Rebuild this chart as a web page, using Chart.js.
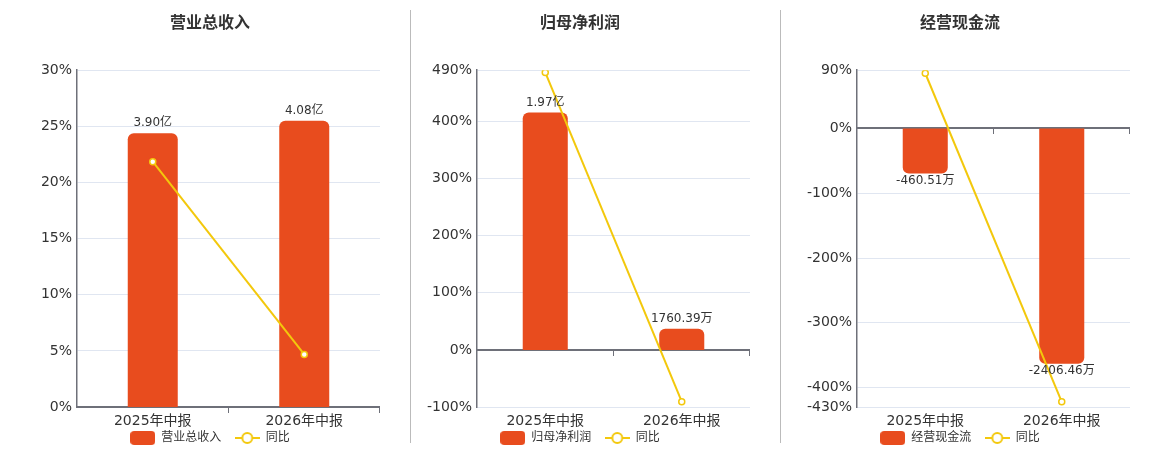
<!DOCTYPE html>
<html>
<head>
<meta charset="utf-8">
<script src="https://cdn.jsdelivr.net/npm/chart.js@4.4.1/dist/chart.umd.min.js"></script>
<style>
  body { margin: 0; background: #fff; width: 1160px; height: 450px; position: relative; overflow: hidden; }
  .box { position: absolute; top: 0; height: 454px; }
  .sep { position: absolute; top: 10px; height: 433px; width: 1px; background: #bbb; }
</style>
</head>
<body>
<div class="box" style="left:0;width:420px"><canvas id="c1" width="420" height="454"></canvas></div>
<div class="box" style="left:400px;width:360px"><canvas id="c2" width="360" height="454"></canvas></div>
<div class="box" style="left:780px;width:360px"><canvas id="c3" width="360" height="454"></canvas></div>
<div class="sep" style="left:410px"></div>
<div class="sep" style="left:780px"></div>
<script>
  const periods = ['2025年中报', '2026年中报'];

  // 营业总收入 (亿)
  const revenue = [3.90, 4.08];
  const revenueText = ['3.90亿', '4.08亿'];
  const revenueYoy = [21.85, 4.68];
  const revenueTicks = [0, 5, 10, 15, 20, 25, 30];

  // 归母净利润 (万)
  const profit = [19700, 1760.39];
  const profitText = ['1.97亿', '1760.39万'];
  const profitYoy = [486, -90.6];
  const profitTicks = [-100, 0, 100, 200, 300, 400, 490];

  // 经营现金流 (万)
  const cashflow = [-460.51, -2406.46];
  const cashflowText = ['-460.51万', '-2406.46万'];
  const cashflowYoy = [85.3, -422];
  const cashflowTicks = [-430, -400, -300, -200, -100, 0, 90];

  const BAR = '#E84C1E';
  const LINE = '#F3C80C';
  const AXIS = '#6E7079';
  const GRID = '#E0E6F1';
  const TEXT = '#333';
  const FONT = '"DejaVu Sans", "Noto Sans CJK SC", sans-serif';

  function barIcon() {
    const c = document.createElement('canvas');
    c.width = 25; c.height = 14;
    const g = c.getContext('2d');
    g.fillStyle = BAR;
    g.beginPath();
    g.roundRect(0, 0, 25, 14, 4);
    g.fill();
    return c;
  }

  function lineIcon() {
    const c = document.createElement('canvas');
    c.width = 25; c.height = 14;
    const g = c.getContext('2d');
    g.strokeStyle = LINE;
    g.lineWidth = 2;
    g.beginPath();
    g.moveTo(0, 7); g.lineTo(25, 7);
    g.stroke();
    g.fillStyle = '#fff';
    g.beginPath();
    g.arc(12.5, 7, 5, 0, Math.PI * 2);
    g.fill();
    g.stroke();
    return c;
  }

  // axis line drawn at the 0% level, with ticks on category edges
  const zeroAxis = {
    id: 'zeroAxis',
    beforeDatasetsDraw(chart) {
      const { ctx, chartArea: a, scales: { y } } = chart;
      const y0 = Math.round(y.getPixelForValue(0));
      const n = chart.data.labels.length;
      ctx.save();
      ctx.strokeStyle = AXIS;
      ctx.lineWidth = 2;
      ctx.beginPath();
      ctx.moveTo(a.left, y0);
      ctx.lineTo(a.right, y0);
      ctx.stroke();
      ctx.lineWidth = 1;
      for (let i = 1; i <= n; i++) {
        const x = Math.round(a.left + i * a.width / n) - 0.5;
        ctx.beginPath();
        ctx.moveTo(x, y0);
        ctx.lineTo(x, y0 + 6);
        ctx.stroke();
      }
      ctx.restore();
    }
  };

  const barValues = {
    id: 'barValues',
    afterDatasetsDraw(chart, args, opts) {
      const { ctx } = chart;
      const meta = chart.getDatasetMeta(0);
      const data = chart.data.datasets[0].data;
      ctx.save();
      ctx.font = '12px ' + FONT;
      ctx.fillStyle = TEXT;
      ctx.textAlign = 'center';
      meta.data.forEach((bar, i) => {
        if (data[i] >= 0) {
          ctx.textBaseline = 'bottom';
          ctx.fillText(opts.text[i], bar.x, bar.y - 4);
        } else {
          ctx.textBaseline = 'top';
          ctx.fillText(opts.text[i], bar.x, bar.y + 1);
        }
      });
      ctx.restore();
    }
  };

  function makeChart(id, title, name, bars, text, yoy, ticks, barMin, barMax, rightGap) {
    new Chart(document.getElementById(id), {
      data: {
        labels: periods,
        datasets: [{
          type: 'bar',
          label: name,
          data: bars,
          yAxisID: 'y1',
          backgroundColor: BAR,
          borderRadius: 6,
          barPercentage: 0.33,
          categoryPercentage: 1,
          order: 2
        }, {
          type: 'line',
          label: '同比',
          data: yoy,
          yAxisID: 'y',
          borderColor: LINE,
          borderWidth: 2,
          pointRadius: 3,
          pointBorderWidth: 1.5,
          pointBackgroundColor: '#fff',
          pointBorderColor: LINE,
          order: 1
        }]
      },
      options: {
        responsive: false,
        animation: false,
        layout: { padding: 0 },
        scales: {
          x: {
            afterFit: s => { s.height = 23; },
            grid: { display: false, drawTicks: false },
            border: { display: false },
            ticks: { color: TEXT, font: { size: 14, family: FONT }, padding: 6 }
          },
          y: {
            position: 'left',
            min: ticks[0],
            max: ticks[ticks.length - 1],
            afterBuildTicks: s => { s.ticks = ticks.map(v => ({ value: v })); },
            afterFit: s => { s.width = 77; },
            grid: { color: GRID, drawTicks: false },
            border: { color: AXIS, width: 1.5 },
            ticks: {
              autoSkip: false,
              padding: 5,
              color: TEXT,
              font: { size: 14, family: FONT },
              callback: v => v + '%'
            }
          },
          y1: {
            position: 'right',
            min: barMin,
            max: barMax,
            afterFit: s => { s.width = rightGap; },
            grid: { display: false },
            border: { display: false },
            ticks: { display: false }
          }
        },
        plugins: {
          title: {
            display: true,
            text: title,
            color: TEXT,
            font: { size: 16, weight: 'bold', family: FONT },
            padding: { top: 14, bottom: 37 }
          },
          legend: {
            position: 'bottom',
            labels: {
              usePointStyle: true,
              pointStyleWidth: 25,
              boxHeight: 14,
              padding: 2,
              color: TEXT,
              font: { size: 12, family: FONT },
              // trailing spaces keep the gap between the two legend items
              generateLabels: () => [
                { text: name + '   ', fontColor: TEXT, pointStyle: barIcon(), fillStyle: BAR, strokeStyle: BAR, lineWidth: 0, hidden: false, datasetIndex: 0 },
                { text: '同比', fontColor: TEXT, pointStyle: lineIcon(), fillStyle: '#fff', strokeStyle: LINE, lineWidth: 0, hidden: false, datasetIndex: 1 }
              ]
            }
          },
          tooltip: { enabled: false },
          barValues: { text: text }
        }
      },
      plugins: [zeroAxis, barValues]
    });
  }

  makeChart('c1', '营业总收入', '营业总收入', revenue, revenueText, revenueYoy, revenueTicks, 0, 4.8, 40);
  makeChart('c2', '归母净利润', '归母净利润', profit, profitText, profitYoy, profitTicks, -4735, 23200, 10);
  makeChart('c3', '经营现金流', '经营现金流', cashflow, cashflowText, cashflowYoy, cashflowTicks, -2850, 596.5, 10);
</script>
</body>
</html>
